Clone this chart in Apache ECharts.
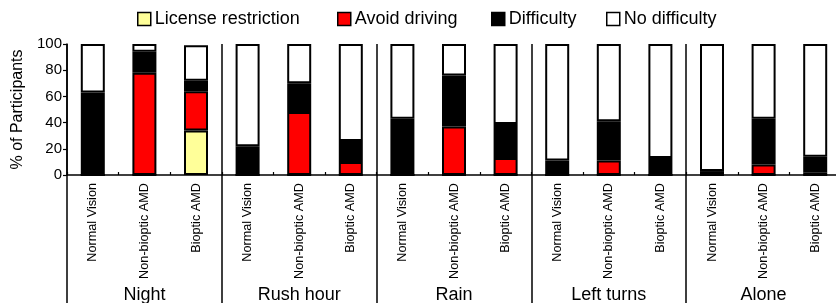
<!DOCTYPE html>
<html>
<head>
<meta charset="utf-8">
<script src="https://cdn.jsdelivr.net/npm/echarts@6/dist/echarts.min.js"></script>
<style>html,body{margin:0;padding:0;background:#fff;}#chart{width:836px;height:303px;}</style>
</head>
<body>
<div id="chart"></div>
<script>
const categories = ['Normal Vision','Non-bioptic AMD','Bioptic AMD','Normal Vision','Non-bioptic AMD','Bioptic AMD','Normal Vision','Non-bioptic AMD','Bioptic AMD','Normal Vision','Non-bioptic AMD','Bioptic AMD','Normal Vision','Non-bioptic AMD','Bioptic AMD'];
const groups = ['Night','Rush hour','Rain','Left turns','Alone'];
const licenseRestriction = [0,0,34, 0,0,0, 0,0,0, 0,0,0, 0,0,0];
const avoidDriving = [0,78,30, 0,48,10, 0,37,13, 0,11,0, 0,8,2];
const difficulty = [63,16,8, 22,22,16, 43,39,26, 11,30,13, 3,35,12];
const noDifficulty = [37,6,27, 78,30,74, 57,24,61, 89,59,87, 97,57,86];
const yTicks = [0,20,40,60,80,100];

const FONT = 'Liberation Sans, Arial, sans-serif';
const chart = echarts.init(document.getElementById('chart'));
function ser(name, data, color) {
  return {
    name: name, type: 'bar', stack: 'total', data: data, barWidth: 24,
    xAxisIndex: 0, yAxisIndex: 0,
    itemStyle: {color: color, borderColor: '#000', borderWidth: 2},
    emphasis: {disabled: true}, animation: false
  };
}
function leg(name, left) {
  return {
    data: [name], left: left, top: 5, icon: 'rect', itemWidth: 13, itemHeight: 13, itemGap: 0,
    itemStyle: {borderColor: '#000', borderWidth: 1.5},
    textStyle: {fontFamily: FONT, fontSize: 18, color: '#000', padding: [0, 0, 0, -1]},
    selectedMode: false
  };
}
chart.setOption({
  animation: false,
  textStyle: {fontFamily: FONT},
  legend: [
    leg('License restriction', 132),
    leg('Avoid driving', 332),
    leg('Difficulty', 486),
    leg('No difficulty', 601)
  ],
  grid: {left: 67, top: 44, width: 774, height: 131, containLabel: false, outerBoundsMode: 'none'},
  xAxis: [{
    type: 'category', data: categories, position: 'bottom',
    axisLine: {show: true, lineStyle: {color: '#000', width: 1.5}},
    axisTick: {show: true, inside: true, length: 3, lineStyle: {color: '#000', width: 1.2}},
    axisLabel: {interval: 0, rotate: 90, margin: 8, fontSize: 12.7, color: '#000', fontFamily: FONT},
    splitLine: {show: false}
  }, {
    type: 'category', data: groups, position: 'bottom', offset: 0,
    axisLine: {show: false},
    axisTick: {show: true, inside: false, length: 130, lineStyle: {color: '#000', width: 1.5}},
    axisLabel: {interval: 0, margin: 111, fontSize: 18, color: '#000', fontFamily: FONT},
    splitLine: {show: true, lineStyle: {color: '#000', width: 1.5}}
  }],
  yAxis: [{
    type: 'value', min: 0, max: 100, interval: 20,
    name: '% of Participants', nameLocation: 'middle', nameGap: 32,
    nameTextStyle: {fontSize: 16, color: '#000', fontFamily: FONT},
    axisLine: {show: true, lineStyle: {color: '#000', width: 1.5}},
    axisTick: {show: true, inside: false, length: 4, lineStyle: {color: '#000', width: 1.2}},
    axisLabel: {margin: 5, fontSize: 15, color: '#000', fontFamily: FONT,
      formatter: function (v) { return yTicks.indexOf(v) >= 0 ? String(v) : ''; }},
    splitLine: {show: false}
  }],
  series: [
    ser('License restriction', licenseRestriction, '#FFFF99'),
    ser('Avoid driving', avoidDriving, '#FF0000'),
    ser('Difficulty', difficulty, '#000000'),
    ser('No difficulty', noDifficulty, '#FFFFFF')
  ]
});
</script>
</body>
</html>
